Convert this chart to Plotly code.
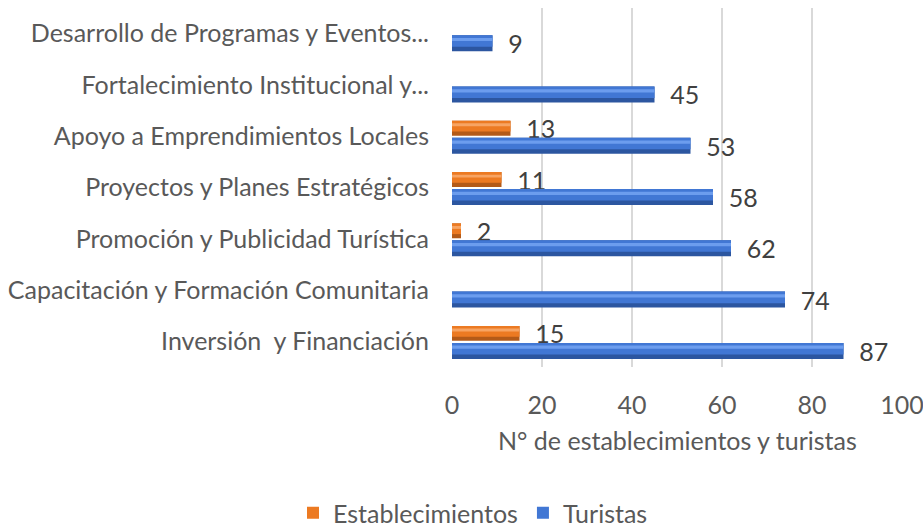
import plotly.graph_objects as go

# Categories listed top to bottom
categorias = [
    "Desarrollo de Programas y Eventos...",
    "Fortalecimiento Institucional y...",
    "Apoyo a Emprendimientos Locales",
    "Proyectos y Planes Estratégicos",
    "Promoción y Publicidad Turística",
    "Capacitación y Formación Comunitaria",
    "Inversión  y Financiación",
]
establecimientos = [None, None, 13, 11, 2, None, 15]
turistas = [9, 45, 53, 58, 62, 74, 87]
x_ticks = [0, 20, 40, 60, 80, 100]

FONT = "Lato"
SIZE = 25
GRAY = "#595959"

W, H = 923, 527
M_L, M_R, M_T, M_B = 452, 21, 8, 160
plot_w = W - M_L - M_R
plot_h = H - M_T - M_B


def paper_x(px):
    return (px - M_L) / plot_w


def paper_y(px):
    return (H - M_B - px) / plot_h


# Shaded bar styles: (offset, thickness) in category units, top to bottom layers
SERIES = [
    dict(name="Establecimientos", values=establecimientos, offset=-0.30, width=0.29,
         dark="#B35A18", mid="#EC7A22", light="#F7A463"),
    dict(name="Turistas", values=turistas, offset=0.03, width=0.312,
         dark="#2C56A0", mid="#4177D4", light="#6C9DEE"),
]

fig = go.Figure()
for s in SERIES:
    # full bar in the dark edge colour, carrying the value label
    fig.add_trace(go.Bar(
        y=categorias, x=s["values"], orientation="h", name=s["name"],
        legendgroup=s["name"], showlegend=False,
        offset=s["offset"], width=s["width"],
        marker=dict(color=s["dark"], line=dict(width=0)),
        texttemplate="  %{x}", textposition="outside", constraintext="none",
        textfont=dict(family=FONT, size=SIZE, color="#404040"), cliponaxis=False,
        hoverinfo="skip",
    ))
    # main face of the bar
    fig.add_trace(go.Bar(
        y=categorias, x=s["values"], orientation="h", name=s["name"],
        legendgroup=s["name"], showlegend=True,
        offset=s["offset"], width=s["width"] * 0.72,
        marker=dict(color=s["mid"], line=dict(width=0)),
    ))
    # light highlight stripe
    fig.add_trace(go.Bar(
        y=categorias, x=s["values"], orientation="h", name=s["name"],
        legendgroup=s["name"], showlegend=False,
        offset=s["offset"] + s["width"] * 0.17, width=s["width"] * 0.2,
        marker=dict(color=s["light"], line=dict(width=0)),
        hoverinfo="skip",
    ))

fig.update_layout(
    width=W, height=H,
    margin=dict(l=M_L, r=M_R, t=M_T, b=M_B, autoexpand=False),
    plot_bgcolor="white", paper_bgcolor="white",
    barmode="overlay",
    font=dict(family=FONT, size=SIZE, color=GRAY),
    showlegend=True,
    legend=dict(orientation="h", x=paper_x(473), xanchor="center", y=paper_y(513),
                yanchor="middle", font=dict(family=FONT, size=SIZE, color=GRAY),
                itemwidth=30),
    xaxis=dict(range=[0, 100], tickvals=x_ticks, showgrid=True, gridcolor="#D9D9D9",
               gridwidth=1.5, zeroline=False, showline=False, ticks="", automargin=False,
               ticklabelstandoff=21, ticklabeloverflow="allow",
               tickfont=dict(family=FONT, size=SIZE, color=GRAY)),
    yaxis=dict(autorange="reversed", showgrid=False, ticks="", showline=False,
               automargin=False, ticklabelstandoff=22,
               tickfont=dict(family=FONT, size=SIZE, color=GRAY)),
    annotations=[dict(text="N° de establecimientos y turistas", x=0.5, y=paper_y(440),
                      xref="paper", yref="paper", yanchor="middle", showarrow=False,
                      font=dict(family=FONT, size=SIZE, color=GRAY))],
)

fig.write_html("out.html")
